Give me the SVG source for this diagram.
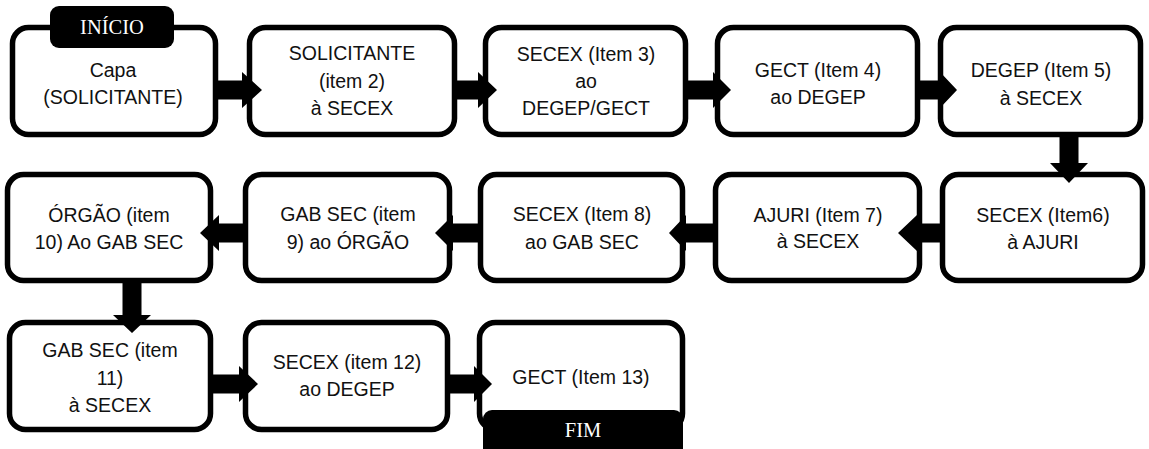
<svg xmlns="http://www.w3.org/2000/svg" width="1149" height="449" viewBox="0 0 1149 449">
  <style>
    .box { fill: #fff; stroke: #000; stroke-width: 5.5; }
    .lbl { font-family: "Liberation Sans", Arial, sans-serif; font-size: 19.5px; fill: #111; text-anchor: middle; }
    .tag { fill: #000; }
    .tagtxt { font-family: "Liberation Serif", "Times New Roman", serif; font-size: 20.5px; fill: #fff; text-anchor: middle; }
    .arrow { fill: #000; }
  </style>
  <rect width="1149" height="449" fill="#fff"/>

  <!-- row 1 -->
  <g id="n1">
    <rect class="box" x="12.5" y="27.5" width="203" height="107" rx="16"/>
    <text class="lbl" x="113" y="77">Capa</text>
    <text class="lbl" x="113" y="104">(SOLICITANTE)</text>
  </g>
  <g id="n2">
    <rect class="box" x="249.5" y="27.5" width="205" height="107" rx="16"/>
    <text class="lbl" x="352" y="60">SOLICITANTE</text>
    <text class="lbl" x="352" y="88">(item 2)</text>
    <text class="lbl" x="352" y="115">à SECEX</text>
  </g>
  <g id="n3">
    <rect class="box" x="485.5" y="27.5" width="200" height="107" rx="16"/>
    <text class="lbl" x="586" y="61">SECEX (Item 3)</text>
    <text class="lbl" x="586" y="88">ao</text>
    <text class="lbl" x="586" y="115">DEGEP/GECT</text>
  </g>
  <g id="n4">
    <rect class="box" x="717.5" y="27.5" width="200" height="107" rx="16"/>
    <text class="lbl" x="818" y="77">GECT (Item 4)</text>
    <text class="lbl" x="818" y="104">ao DEGEP</text>
  </g>
  <g id="n5">
    <rect class="box" x="940.5" y="27.5" width="200" height="107" rx="16"/>
    <text class="lbl" x="1041" y="77">DEGEP (Item 5)</text>
    <text class="lbl" x="1041" y="105">à SECEX</text>
  </g>

  <!-- row 2 -->
  <g id="n6">
    <rect class="box" x="942.5" y="174.5" width="200" height="106" rx="16"/>
    <text class="lbl" x="1043" y="222">SECEX (Item6)</text>
    <text class="lbl" x="1043" y="249">à AJURI</text>
  </g>
  <g id="n7">
    <rect class="box" x="715.5" y="174.5" width="204" height="106" rx="16"/>
    <text class="lbl" x="818" y="222">AJURI (Item 7)</text>
    <text class="lbl" x="818" y="248">à SECEX</text>
  </g>
  <g id="n8">
    <rect class="box" x="480.5" y="174.5" width="202" height="106" rx="16"/>
    <text class="lbl" x="582" y="221">SECEX (Item 8)</text>
    <text class="lbl" x="582" y="249">ao GAB SEC</text>
  </g>
  <g id="n9">
    <rect class="box" x="245.5" y="174.5" width="204" height="106" rx="16"/>
    <text class="lbl" x="348" y="221">GAB SEC (item</text>
    <text class="lbl" x="348" y="249">9) ao ÓRGÃO</text>
  </g>
  <g id="n10">
    <rect class="box" x="7.5" y="174.5" width="203" height="106" rx="16"/>
    <text class="lbl" x="109" y="222">ÓRGÃO (item</text>
    <text class="lbl" x="109" y="249">10) Ao GAB SEC</text>
  </g>

  <!-- row 3 -->
  <g id="n11">
    <rect class="box" x="9.5" y="322.5" width="201" height="107" rx="16"/>
    <text class="lbl" x="110" y="357">GAB SEC (item</text>
    <text class="lbl" x="110" y="385">11)</text>
    <text class="lbl" x="110" y="412">à SECEX</text>
  </g>
  <g id="n12">
    <rect class="box" x="245.5" y="322.5" width="202" height="107" rx="16"/>
    <text class="lbl" x="347" y="369">SECEX (item 12)</text>
    <text class="lbl" x="347" y="396">ao DEGEP</text>
  </g>
  <g id="n13">
    <rect class="box" x="479.5" y="322.5" width="203" height="107" rx="16"/>
    <text class="lbl" x="581" y="384">GECT (Item 13)</text>
  </g>

  <!-- start / end tags -->
  <g id="start">
    <rect class="tag" x="50" y="6" width="124" height="42" rx="9"/>
    <text class="tagtxt" x="112" y="34">INÍCIO</text>
  </g>
  <g id="end">
    <rect class="tag" x="483" y="410" width="200" height="48" rx="9"/>
    <text class="tagtxt" x="583" y="437">FIM</text>
  </g>

  <!-- connectors: block arrows -->
  <g id="connectors" class="arrow">
    <!-- row 1, pointing right (centre y 90) -->
    <polygon points="216,80.5 242,80.5 242,72 262,90 242,108 242,99.5 216,99.5"/>
    <polygon points="455,80.5 478,80.5 478,72 497,90 478,108 478,99.5 455,99.5"/>
    <polygon points="686,80.5 713,80.5 713,72 731,90 713,108 713,99.5 686,99.5"/>
    <polygon points="918,80.5 940,80.5 940,72 957,90 940,108 940,99.5 918,99.5"/>
    <!-- down from row 1 to row 2 -->
    <polygon points="1059.5,136 1078.5,136 1078.5,163 1088,163 1069,183 1050,163 1059.5,163"/>
    <!-- row 2, pointing left (centre y 233) -->
    <polygon points="942,223.5 917,223.5 917,215 898,233 917,251 917,242.5 942,242.5"/>
    <polygon points="715,223.5 686,223.5 686,215 669,233 686,251 686,242.5 715,242.5"/>
    <polygon points="480,223.5 453,223.5 453,215 435,233 453,251 453,242.5 480,242.5"/>
    <polygon points="245,223.5 219,223.5 219,215 200,233 219,251 219,242.5 245,242.5"/>
    <!-- down from row 2 to row 3 -->
    <polygon points="122.5,282 141.5,282 141.5,315 151,315 132,333 113,315 122.5,315"/>
    <!-- row 3, pointing right (centre y 384) -->
    <polygon points="211,374.5 239,374.5 239,366 258,384 239,402 239,393.5 211,393.5"/>
    <polygon points="446,374.5 474,374.5 474,366 492,384 474,402 474,393.5 446,393.5"/>
  </g>
</svg>
